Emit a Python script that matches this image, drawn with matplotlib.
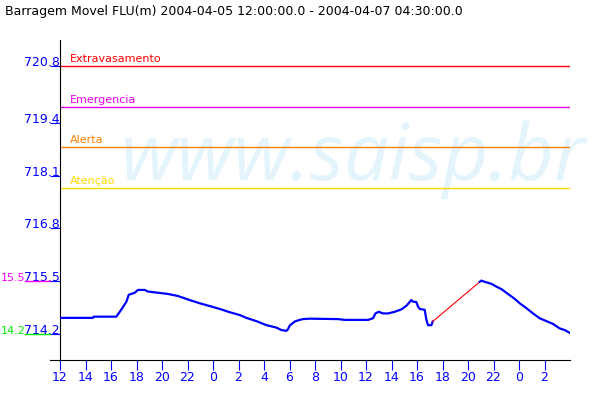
import matplotlib
matplotlib.use('Agg')
from matplotlib import pyplot as plt
import matplotlib.transforms as mtransforms

# hours after 2004-04-05 12:00
hours = [0, 2.59, 2.64, 4.42, 4.82, 5.21, 5.39, 5.86, 6.12, 6.64, 6.90, 7.69, 8.47, 9.25,
         10.17, 10.96, 11.76, 12.53, 13.31, 14.1, 14.62, 15.40, 16.19, 16.97, 17.36, 17.76,
         17.88, 18.02, 18.41, 18.80, 19.06, 19.58, 21.80, 22.33, 24.16, 24.55, 24.74, 25.0,
         25.33, 25.73, 26.25, 26.78, 27.17, 27.56, 27.69, 27.95, 28.08, 28.21, 28.60, 28.74,
         28.86, 29.13, 29.23]
level = [714.59, 714.59, 714.62, 714.62, 714.80, 714.99, 715.16, 715.21, 715.28, 715.28,
         715.24, 715.21, 715.18, 715.13, 715.03, 714.95, 714.88, 714.81, 714.73, 714.66,
         714.59, 714.51, 714.41, 714.35, 714.29, 714.27, 714.31, 714.40, 714.50, 714.54,
         714.56, 714.57, 714.56, 714.54, 714.54, 714.58, 714.70, 714.74, 714.70, 714.70,
         714.74, 714.80, 714.89, 715.03, 714.99, 714.98, 714.87, 714.81, 714.79, 714.54,
         714.41, 714.41, 714.50]

# missing stretch, drawn in red
gap_hours = [29.23, 32.92]
gap_level = [714.50, 715.48]

hours2 = [32.92, 33.05, 33.31, 33.84, 34.23, 34.62, 35.14, 35.66, 36.06, 36.58, 37.10,
          37.62, 38.15, 38.67, 39.19, 39.58, 39.98]
level2 = [715.48, 715.51, 715.48, 715.43, 715.36, 715.30, 715.18, 715.06, 714.95, 714.83,
          714.70, 714.58, 714.51, 714.44, 714.33, 714.29, 714.22]

limit_names = ['Extravasamento', 'Emergencia', 'Alerta', 'Atenção']
limit_values = [720.8, 719.8, 718.8, 717.8]
limit_colors = ['#ff0000', '#e600e6', '#ff8000', '#ffd800']

yticks = [714.2, 715.5, 716.8, 718.1, 719.4, 720.8]
ytick_labels = ['714.2', '715.5', '716.8', '718.1', '719.4', '720.8']
xticks = list(range(0, 40, 2))
xtick_labels = [str((12 + h) % 24) for h in xticks]

blue = '#0000ff'

fig = plt.figure(figsize=(6, 4), dpi=100)
ax = fig.add_axes([0.1, 0.1, 0.85, 0.8])
ax.set_xlim(0, 40)
ax.set_ylim(713.55, 721.45)

ax.text(0.118, 0.5625, 'www.saisp.br', transform=ax.transAxes, ha='left', va='baseline',
        fontsize=57, style='italic', family='Open Sans', color='#e3f4fc', zorder=0)

for name, val, c in zip(limit_names, limit_values, limit_colors):
    ax.axhline(val, color=c, lw=1.0, zorder=2)
    ax.annotate(name, xy=(0, val), xytext=(7, 3), textcoords='offset points',
                color=c, fontsize=8, va='baseline', ha='left')

ax.plot(hours, level, color=blue, lw=1.6, zorder=3)
ax.plot(gap_hours, gap_level, color='#ff0000', lw=0.8, zorder=3)
ax.plot(hours2, level2, color=blue, lw=1.6, zorder=3)

ax.set_yticks(yticks)
ax.set_yticklabels(ytick_labels)
for lab in ax.get_yticklabels():
    lab.set_verticalalignment('baseline')
ax.tick_params(axis='y', direction='out', length=7.2, color=blue, labelcolor=blue,
               pad=-7.2, labelsize=9)
ax.set_xticks(xticks)
ax.set_xticklabels(xtick_labels)
ax.tick_params(axis='x', direction='out', length=7.2, color=blue, labelcolor=blue,
               pad=1, labelsize=9)

for s in ['top', 'right']:
    ax.spines[s].set_visible(False)
ax.spines['bottom'].set_bounds(-10 / 12.75, 40)

# secondary labels on the left
trans = mtransforms.blended_transform_factory(ax.transAxes, ax.transData)
for val, txt, c in [(715.5, '15.5', '#ff00ff'), (714.2, '14.2', '#00ee00')]:
    ax.plot([-35 / 510, -10 / 510], [val, val], color=c, lw=1, transform=trans, clip_on=False)
    ax.text(-59 / 510, val, txt, color=c, fontsize=8, ha='left', va='baseline',
            transform=trans)

fig.text(5 / 600, 1 - 15 / 400,
         'Barragem Movel FLU(m) 2004-04-05 12:00:00.0 - 2004-04-07 04:30:00.0',
         fontsize=9, va='baseline', ha='left')

fig.savefig('out.png', dpi=100)
